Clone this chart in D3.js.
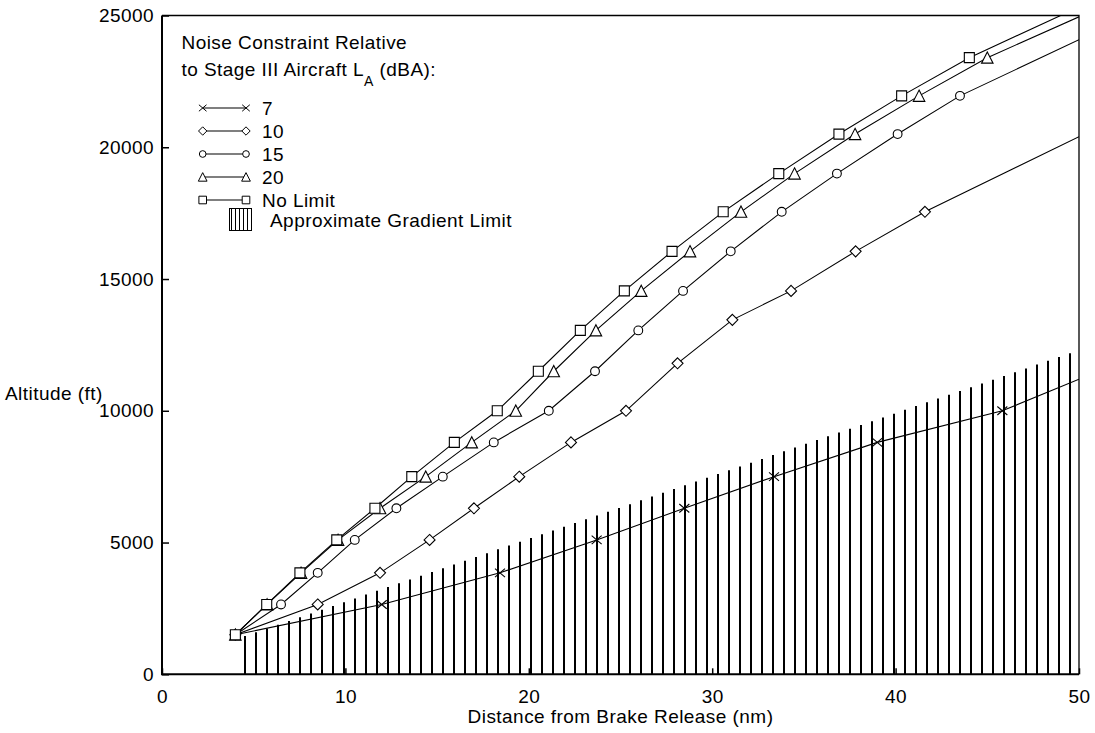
<!DOCTYPE html>
<html>
<head>
<meta charset="utf-8">
<script src="https://cdn.jsdelivr.net/npm/d3@7"></script>
<style>
  body { margin: 0; background: #fff; }
  svg text { font-family: "Liberation Sans", Arial, sans-serif; font-size: 19px; letter-spacing: 0.45px; fill: #000; }
</style>
</head>
<body>
<svg id="chart" width="1095" height="733"></svg>
<script>
// series: distance (nm) and altitude (ft); last point is where the line leaves the frame
const seriesLabels = ['7', '10', '15', '20', 'No Limit'];

const crossDist = [4.0, 11.98, 18.43, 23.70, 28.48, 33.37, 39.00, 45.82, 50];
const crossAlt = [1500, 2650, 3850, 5100, 6300, 7500, 8800, 10000, 11200];

const diamondDist = [4.0, 8.49, 11.89, 14.59, 17.01, 19.48, 22.30, 25.30, 28.11, 31.10, 34.30, 37.82, 41.60, 50];
const diamondAlt = [1500, 2650, 3850, 5100, 6300, 7500, 8800, 10000, 11800, 13450, 14550, 16050, 17550, 20400];

const circleDist = [4.0, 6.49, 8.49, 10.51, 12.78, 15.31, 18.09, 21.09, 23.61, 25.97, 28.41, 31.01, 33.79, 36.80, 40.11, 43.51, 50];
const circleAlt = [1500, 2650, 3850, 5100, 6300, 7500, 8800, 10000, 11500, 13050, 14550, 16050, 17550, 19000, 20500, 21950, 24080];

const triangleDist = [4.0, 5.73, 7.58, 9.60, 11.89, 14.38, 16.89, 19.29, 21.36, 23.66, 26.13, 28.79, 31.57, 34.49, 37.79, 41.28, 45.00, 50];
const triangleAlt = [1500, 2650, 3850, 5100, 6300, 7500, 8800, 10000, 11500, 13050, 14550, 16050, 17550, 19000, 20500, 21950, 23400, 24950];

const squareDist = [4.0, 5.71, 7.52, 9.53, 11.61, 13.62, 15.94, 18.28, 20.52, 22.81, 25.21, 27.81, 30.60, 33.63, 36.91, 40.33, 44.02, 49.0];
const squareAlt = [1500, 2650, 3850, 5100, 6300, 7500, 8800, 10000, 11500, 13050, 14550, 16050, 17550, 19000, 20500, 21950, 23400, 25000];

// approximate gradient limit (straight line)
const gradientDist = [4.5, 50];
const gradientAlt = [1450, 12300];

const xTicks = [0, 10, 20, 30, 40, 50];
const yTicks = [0, 5000, 10000, 15000, 20000, 25000];

const svg = d3.select('#chart');
const x = d3.scaleLinear().domain([0, 50]).range([162, 1079]);
const y = d3.scaleLinear().domain([0, 25000]).range([674.3, 15.5]);

// marker shapes, s = half size
const shapes = {
  cross: s => `M${-s},${-s * 0.85}L${s},${s * 0.85}M${-s},${s * 0.85}L${s},${-s * 0.85}`,
  diamond: s => `M0,${-s * 1.1}L${s * 1.1},0L0,${s * 1.1}L${-s * 1.1},0Z`,
  circle: s => `M${s * 0.88},0A${s * 0.88},${s * 0.88} 0 1,1 ${-s * 0.88},0A${s * 0.88},${s * 0.88} 0 1,1 ${s * 0.88},0Z`,
  triangle: s => `M0,${-s * 1.15}L${s * 1.15},${s * 1.1}L${-s * 1.15},${s * 1.1}Z`,
  square: s => `M${-s},${-s}H${s}V${s}H${-s}Z`
};

const series = [
  { label: seriesLabels[0], shape: 'cross', dist: crossDist, alt: crossAlt },
  { label: seriesLabels[1], shape: 'diamond', dist: diamondDist, alt: diamondAlt },
  { label: seriesLabels[2], shape: 'circle', dist: circleDist, alt: circleAlt },
  { label: seriesLabels[3], shape: 'triangle', dist: triangleDist, alt: triangleAlt },
  { label: seriesLabels[4], shape: 'square', dist: squareDist, alt: squareAlt }
];

svg.append('clipPath').attr('id', 'plot')
  .append('rect')
  .attr('x', x(0)).attr('y', y(25000))
  .attr('width', x(50) - x(0)).attr('height', y(0) - y(25000));

// hatched gradient region
const gradient = d3.scaleLinear().domain(gradientDist).range(gradientAlt);
svg.append('g')
  .attr('stroke', '#000')
  .attr('stroke-width', 2)
  .selectAll('line')
  .data(d3.range(gradientDist[0], gradientDist[1], 0.6))
  .join('line')
  .attr('x1', d => Math.round(x(d))).attr('x2', d => Math.round(x(d)))
  .attr('y1', y(0))
  .attr('y2', d => y(gradient(d)));

// lines
const line = d3.line().x(d => x(d[0])).y(d => y(d[1]));
svg.append('g')
  .attr('clip-path', 'url(#plot)')
  .selectAll('path')
  .data(series)
  .join('path')
  .attr('fill', 'none')
  .attr('stroke', '#000')
  .attr('stroke-width', 1.1)
  .attr('d', s => line(s.dist.map((d, i) => [d, s.alt[i]])));

// markers (not on the edge point)
series.forEach(s => {
  svg.append('g')
    .selectAll('path')
    .data(s.dist.slice(0, -1).map((d, i) => [d, s.alt[i]]))
    .join('path')
    .attr('transform', d => `translate(${x(d[0])},${y(d[1])})`)
    .attr('d', shapes[s.shape](5))
    .attr('fill', s.shape === 'cross' ? 'none' : '#fff')
    .attr('stroke', '#000')
    .attr('stroke-width', 1.1);
});

// axes
svg.append('g')
  .attr('transform', `translate(0,${y(0)})`)
  .call(d3.axisBottom(x).tickValues(xTicks).tickSizeInner(-6).tickSizeOuter(0).tickPadding(15))
  .call(g => g.select('.domain').remove())
  .call(g => g.selectAll('.tick line').attr('stroke-width', 1.5))
  .call(g => g.selectAll('text').attr('font-size', null).attr('font-family', null));

svg.append('g')
  .attr('transform', `translate(${x(0)},0)`)
  .call(d3.axisLeft(y).tickValues(yTicks).tickFormat(d3.format('d')).tickSizeInner(-7).tickSizeOuter(0).tickPadding(8))
  .call(g => g.select('.domain').remove())
  .call(g => g.selectAll('.tick line').attr('stroke-width', 1.5))
  .call(g => g.selectAll('text').attr('font-size', null).attr('font-family', null));

// frame
svg.append('path')
  .attr('fill', 'none').attr('stroke', '#000').attr('stroke-width', 1.3)
  .attr('d', `M${x(0)},${y(25000)}H${x(50)}V${y(0)}`);
svg.append('path')
  .attr('fill', 'none').attr('stroke', '#000').attr('stroke-width', 2)
  .attr('d', `M${x(0)},${y(25000)}V${y(0)}H${x(50)}`);

// axis titles
svg.append('text')
  .attr('x', 5).attr('y', 393)
  .attr('dominant-baseline', 'central')
  .text('Altitude (ft)');

svg.append('text')
  .attr('x', (x(0) + x(50)) / 2).attr('y', 723)
  .attr('text-anchor', 'middle')
  .text('Distance from Brake Release (nm)');

// legend
const legend = svg.append('g');
legend.append('text').attr('x', 181.5).attr('y', 49).text('Noise Constraint Relative');
const t2 = legend.append('text').attr('x', 181.5).attr('y', 75.5);
t2.append('tspan').text('to Stage III Aircraft L');
t2.append('tspan').attr('dy', 10).style('font-size', '14px').text('A');
t2.append('tspan').attr('dy', -10).text(' (dBA):');

series.forEach((s, i) => {
  const ry = 108 + i * 23;
  const row = legend.append('g');
  row.append('line')
    .attr('x1', 202.7).attr('x2', 246)
    .attr('y1', ry).attr('y2', ry)
    .attr('stroke', '#000').attr('stroke-width', 1.1);
  [202.7, 246].forEach(mx => {
    row.append('path')
      .attr('transform', `translate(${mx},${ry})`)
      .attr('d', shapes[s.shape](3.8))
      .attr('fill', s.shape === 'cross' ? 'none' : '#fff')
      .attr('stroke', '#000').attr('stroke-width', 1);
  });
  row.append('text')
    .attr('x', 262).attr('y', ry)
    .attr('dominant-baseline', 'central')
    .text(s.label);
});

const box = legend.append('g');
box.append('rect')
  .attr('x', 229.5).attr('y', 208.5).attr('width', 22).attr('height', 22)
  .attr('fill', '#fff').attr('stroke', '#000').attr('stroke-width', 1);
box.selectAll('line.h')
  .data(d3.range(231.5, 250, 4))
  .join('line')
  .attr('x1', d => d).attr('x2', d => d)
  .attr('y1', 208.5).attr('y2', 230.5)
  .attr('stroke', '#000').attr('stroke-width', 1);
legend.append('text')
  .attr('x', 270).attr('y', 220)
  .attr('dominant-baseline', 'central')
  .text('Approximate Gradient Limit');
</script>
</body>
</html>
